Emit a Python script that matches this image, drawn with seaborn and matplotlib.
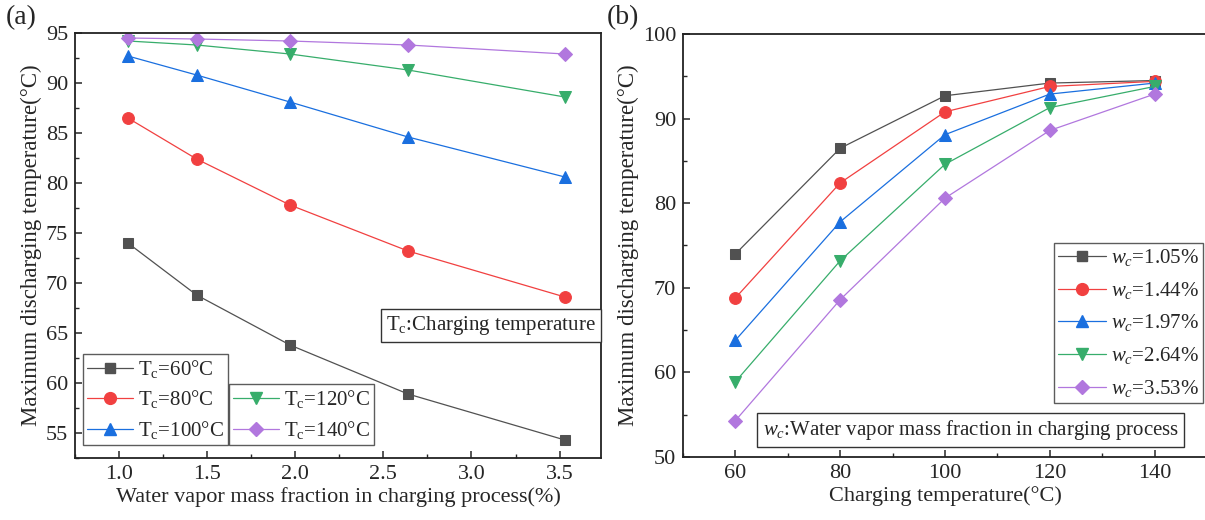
import matplotlib
matplotlib.use("Agg")
import matplotlib.pyplot as plt
from matplotlib.ticker import MultipleLocator
from matplotlib.lines import Line2D
import numpy as np
import pandas as pd
import seaborn as sns

# data
wc = [1.05, 1.44, 1.97, 2.64, 3.53]
tc = [60, 80, 100, 120, 140]
t_max = {
    60: [74.0, 68.8, 63.8, 58.9, 54.3],
    80: [86.5, 82.4, 77.8, 73.2, 68.6],
    100: [92.7, 90.8, 88.1, 84.6, 80.6],
    120: [94.2, 93.8, 92.9, 91.3, 88.6],
    140: [94.5, 94.4, 94.2, 93.8, 92.9],
}

colors = ["#515151", "#F14040", "#1A6FDF", "#37AD6B", "#B177DE"]
markers = ["s", "o", "^", "v", "D"]
msizes = [7.5, 8.5, 9, 9, 7.5]

rows = []
for t in tc:
    for w, v in zip(wc, t_max[t]):
        rows.append({"Tc": t, "wc": w, "T": v})
df = pd.DataFrame(rows)

sns.set_style("ticks")
plt.rcParams['font.family'] = ['Liberation Serif', 'DejaVu Serif']
plt.rcParams['mathtext.fontset'] = 'custom'
plt.rcParams['mathtext.rm'] = 'Liberation Serif'
plt.rcParams['mathtext.it'] = 'Liberation Serif:italic'
plt.rcParams['xtick.direction'] = 'in'
plt.rcParams['ytick.direction'] = 'in'

fig = plt.figure(figsize=(12.05, 5.2), dpi=100)
ax1 = fig.add_axes([75 / 1205, 1 - 458 / 520, 526 / 1205, 425 / 520])
ax2 = fig.add_axes([683 / 1205, 1 - 457 / 520, 524 / 1205, 423 / 520])

fs = 16
fs_leg = 15

# (a)
for i, t in enumerate(tc):
    sub = df[df.Tc == t]
    sns.lineplot(data=sub, x="wc", y="T", ax=ax1, color=colors[i], lw=0.9,
                 marker=markers[i], markersize=msizes[i],
                 markeredgecolor=colors[i], legend=False)

# (b)
for i, w in enumerate(wc):
    sub = df[df.wc == w]
    sns.lineplot(data=sub, x="Tc", y="T", ax=ax2, color=colors[i], lw=0.9,
                 marker=markers[i], markersize=msizes[i],
                 markeredgecolor=colors[i], legend=False)

def handle(i):
    return Line2D([], [], color=colors[i], lw=0.9, marker=markers[i],
                  markersize=msizes[i], markeredgecolor=colors[i])

ax1.set_xlim(0.75, 3.735)
ax1.set_ylim(52.5, 95)
ax1.xaxis.set_major_locator(MultipleLocator(0.5))
ax1.xaxis.set_minor_locator(MultipleLocator(0.25))
ax1.yaxis.set_major_locator(MultipleLocator(5))
ax1.yaxis.set_minor_locator(MultipleLocator(2.5))
ax1.set_xlabel("Water vapor mass fraction in charging process(%)", fontsize=fs)
ax1.set_ylabel("Maximum discharging temperature(°C)", fontsize=16.5)

ax2.set_xlim(50, 150)
ax2.set_ylim(50, 100)
ax2.xaxis.set_major_locator(MultipleLocator(20))
ax2.xaxis.set_minor_locator(MultipleLocator(10))
ax2.yaxis.set_major_locator(MultipleLocator(10))
ax2.yaxis.set_minor_locator(MultipleLocator(5))
ax2.set_xlabel("Charging temperature(°C)", fontsize=fs)
ax2.set_ylabel("Maximum discharging temperature(°C)", fontsize=16.5)

for ax in (ax1, ax2):
    for s in ax.spines.values():
        s.set_linewidth(1.3)
        s.set_color("#222222")
    ax.tick_params(which="major", length=5, width=1.1, labelsize=fs, pad=5)
    ax.tick_params(which="minor", length=3, width=1.0)
    ax.xaxis.labelpad = 2
    ax.yaxis.labelpad = 3

leg_kw = dict(fontsize=fs_leg, frameon=True, fancybox=False, edgecolor="#333333",
              handlelength=2.2, handletextpad=0.25, borderpad=0.2,
              labelspacing=0.4, borderaxespad=0)

lab_a = [r"T$_\mathrm{c}$=%d°C" % t for t in tc]
leg1 = ax1.legend([handle(0), handle(1), handle(2)], lab_a[:3],
                  loc="lower left", bbox_to_anchor=(8 / 526, 13 / 425), **leg_kw)
leg1.get_frame().set_linewidth(1.0)
ax1.add_artist(leg1)
leg2 = ax1.legend([handle(3), handle(4)], lab_a[3:],
                  loc="lower left", bbox_to_anchor=(154 / 526, 13 / 425), **leg_kw)
leg2.get_frame().set_linewidth(1.0)

ax1.text(0.99, 0.312, r"T$_\mathrm{c}$:Charging temperature", transform=ax1.transAxes,
         ha="right", va="center", fontsize=fs_leg,
         bbox=dict(boxstyle="square,pad=0.25", fc="white", ec="#333333", lw=1.0))

lab_b = [r"$w_c$=%.2f%%" % w for w in wc]
leg3 = ax2.legend([handle(i) for i in range(5)], lab_b,
                  loc="upper left", bbox_to_anchor=(371 / 524, 1 - 209 / 423),
                  **dict(leg_kw, labelspacing=0.56, handlelength=2.3))
leg3.get_frame().set_linewidth(1.0)

ax2.text(0.152, 0.064, r"$w_c$:Water vapor mass fraction in charging process",
         transform=ax2.transAxes, ha="left", va="center", fontsize=fs_leg,
         bbox=dict(boxstyle="square,pad=0.25", fc="white", ec="#333333", lw=1.0))

fig.text(6 / 1205, 1 - 18 / 520, "(a)", fontsize=20, va="center", ha="left")
fig.text(607 / 1205, 1 - 18 / 520, "(b)", fontsize=20, va="center", ha="left")

fig.savefig("out.png", dpi=100)
